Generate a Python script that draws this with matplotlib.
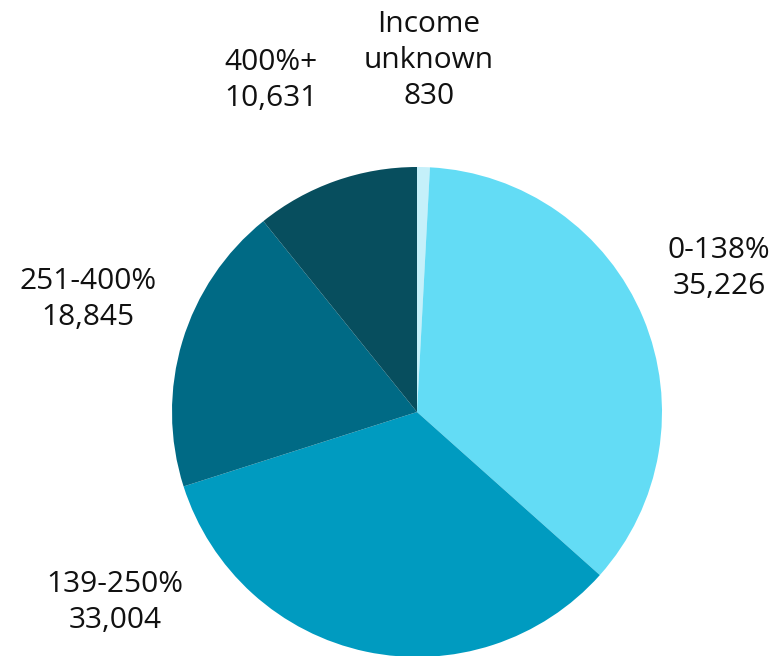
import matplotlib
matplotlib.use("Agg")
import matplotlib.pyplot as plt

categories = ["Income\nunknown", "0-138%", "139-250%", "251-400%", "400%+"]
values     = [830, 35226, 33004, 18845, 10631]
colors     = ["#C5F0FA", "#63DCF5", "#009BC0", "#006A85", "#074E5E"]

# label block centres, in pie radius units
label_pos = [(0.049, 1.433), (1.233, 0.584), (-1.233, -0.776),
             (-1.343, 0.461), (-0.596, 1.355)]

W, H = 775, 656
cx, cy, r = 417, 412, 245

fig = plt.figure(figsize=(W / 100, H / 100), dpi=100)
ax = fig.add_axes([(cx - r) / W, (H - cy - r) / H, 2 * r / W, 2 * r / H])
ax.pie(values, colors=colors, startangle=90, counterclock=False,
       wedgeprops={"linewidth": 0})
ax.set_xlim(-1, 1)
ax.set_ylim(-1, 1)
ax.set_aspect("equal")
ax.axis("off")

for cat, val, (x, y) in zip(categories, values, label_pos):
    ax.text(x, y, f"{cat}\n{val:,}", ha="center", va="center",
            fontsize=21.5, family=["Open Sans", "DejaVu Sans"],
            color="#111111", linespacing=1.32, clip_on=False)

fig.savefig("out.png", dpi=100)
